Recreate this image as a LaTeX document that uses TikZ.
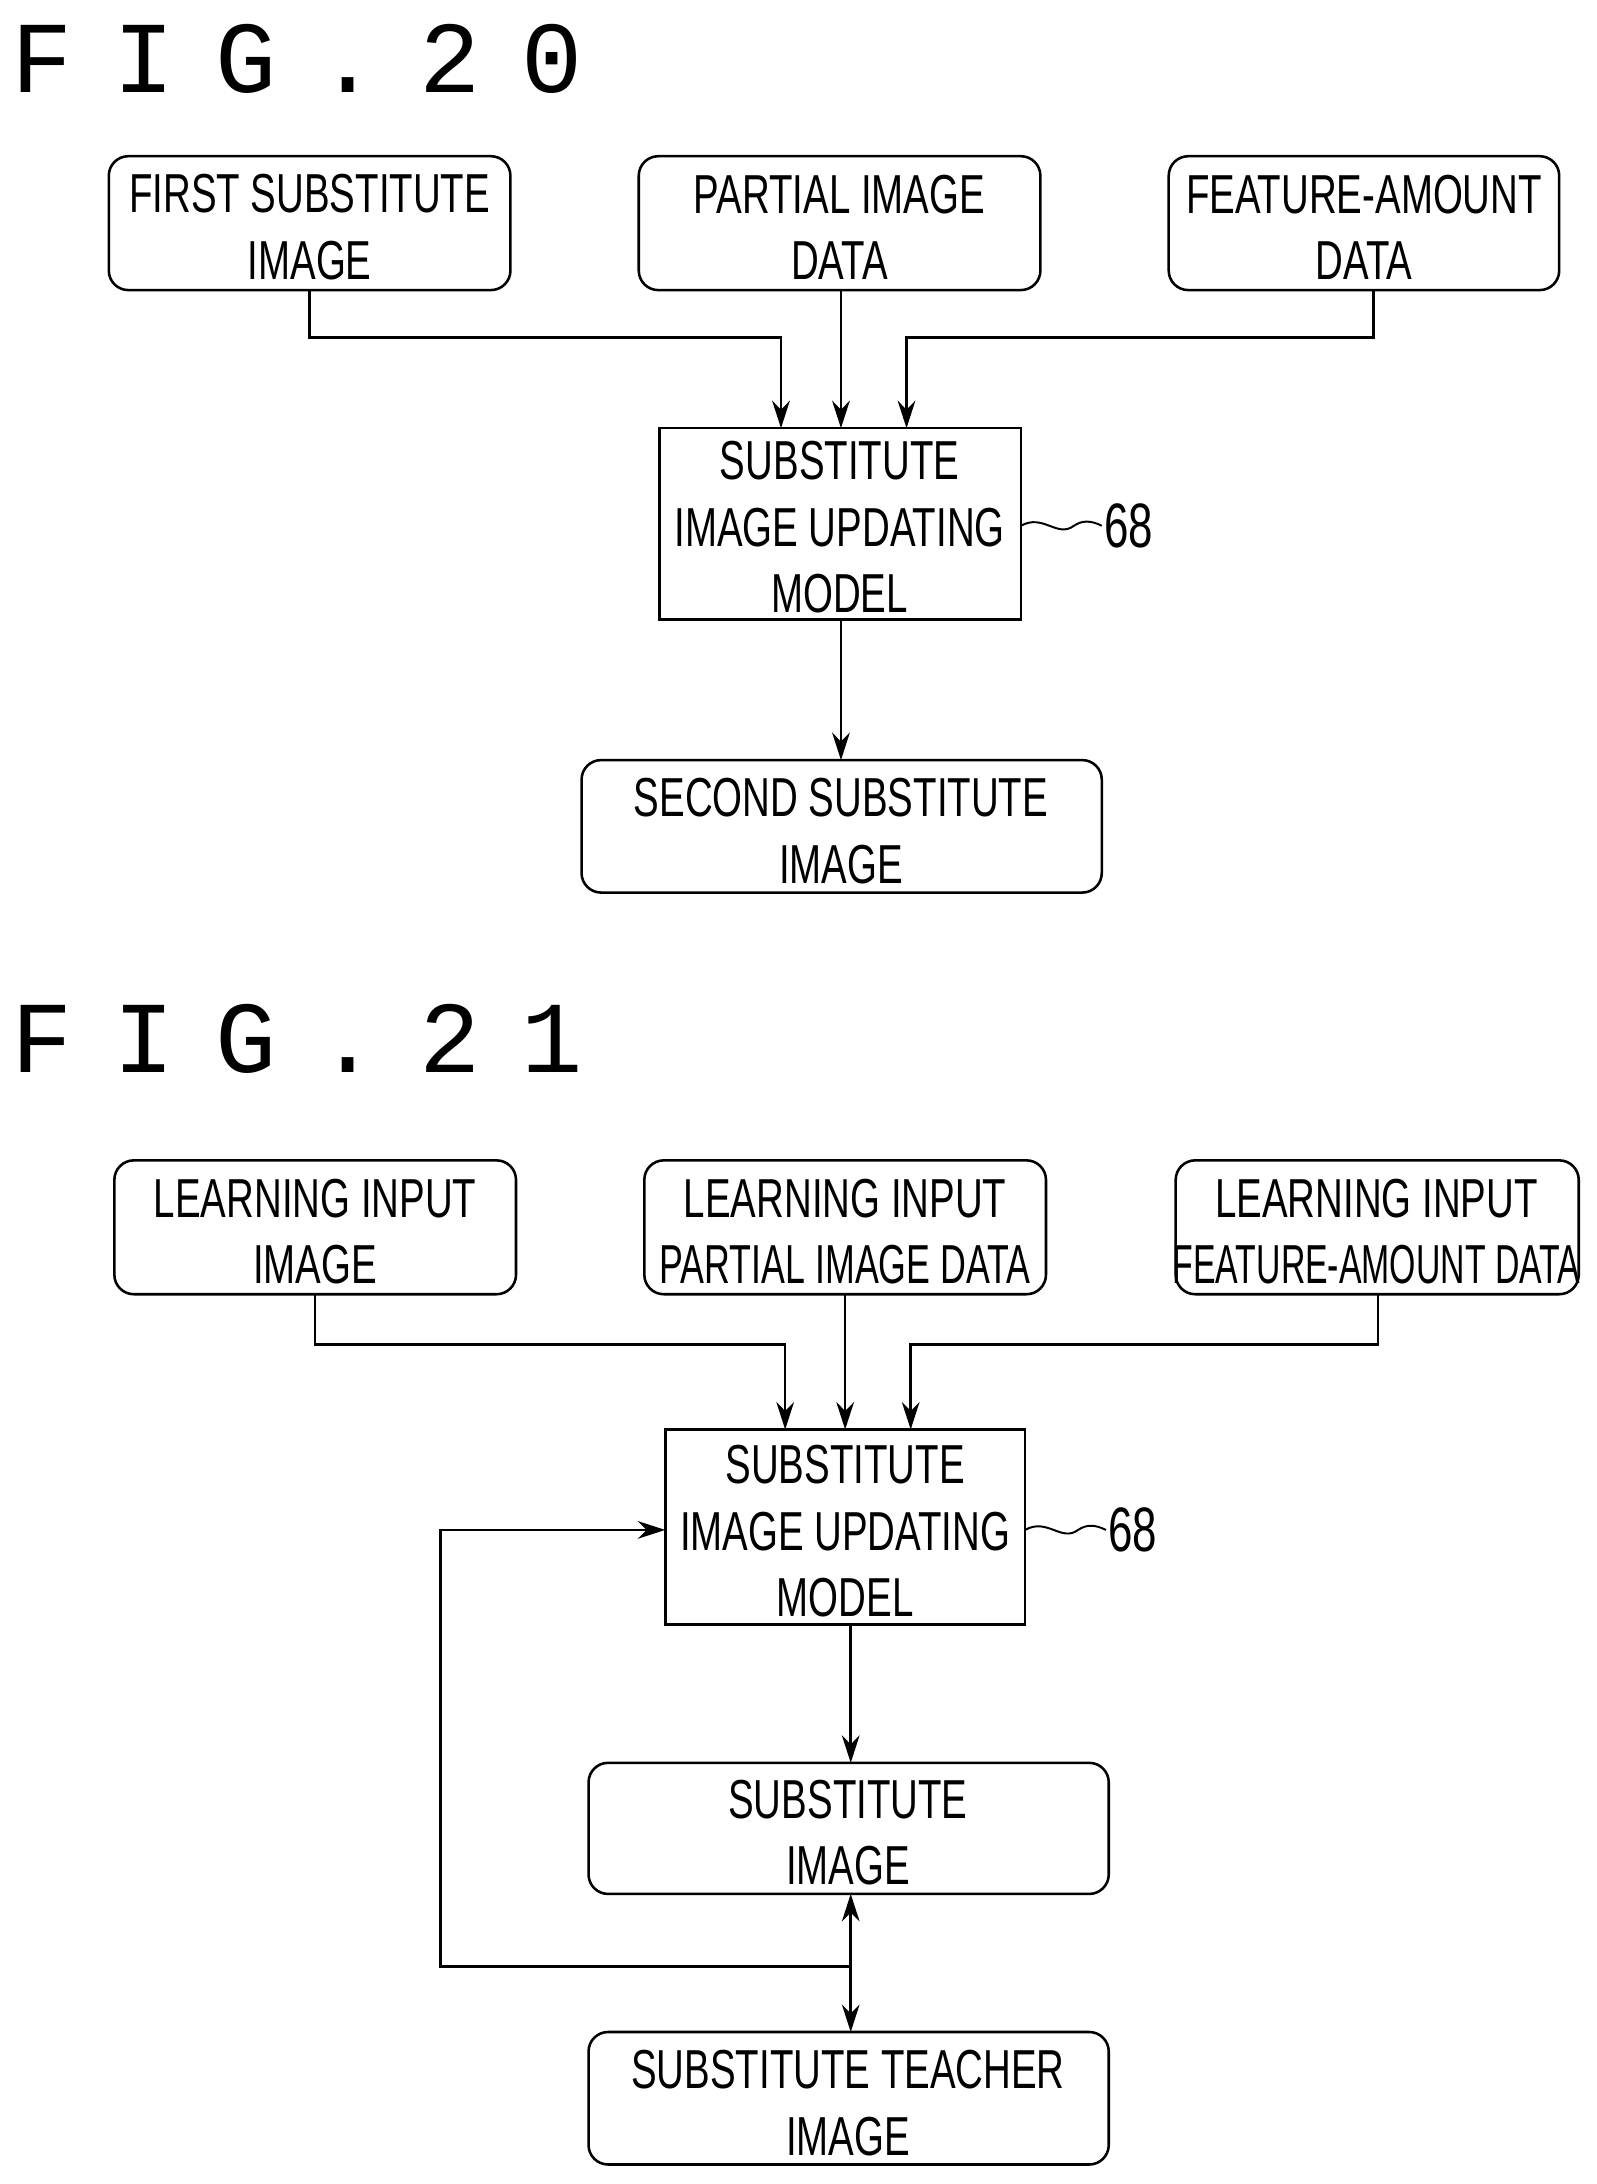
\documentclass[tikz,border=0pt]{standalone}
\usepackage{fontspec}
\usepackage{graphicx}
\setmainfont{Liberation Sans}[FakeStretch=0.7]
\newfontfamily\titlefont{Liberation Mono}[LetterSpace=40]
\usetikzlibrary{arrows.meta}
\begin{document}
\begin{tikzpicture}[x=0.025cm,y=-0.025cm,
  line width=1.3pt,
  txt/.style={font=\fontsize{28}{34}\selectfont, align=center},
  rbox/.style={draw, rounded corners=0.35cm},
  sbox/.style={draw},
  arr/.style={-{Stealth[length=14pt,width=9pt]}},
  lbl/.style={font=\fontsize{32}{36}\selectfont, anchor=west},
  ttl/.style={font=\titlefont\fontsize{52}{60}\selectfont, anchor=west}]
\useasboundingbox (0,0) rectangle (1145,1566);
% FIG 20
\node[ttl] (t20) at (3,42) {FIG.20};
\draw[rbox] (78,112) rectangle (366,208); \node[txt] (a) at (222,163) {FIRST SUBSTITUTE\\IMAGE};
\draw[rbox] (458,112) rectangle (746,208); \node[txt] (b) at (602,163) {PARTIAL IMAGE\\DATA};
\draw[rbox] (838,112) rectangle (1118,208); \node[txt] (c) at (978,163) {FEATURE-AMOUNT\\DATA};
\draw[sbox] (473,307) rectangle (732,444); \node[txt] (m) at (602,378) {SUBSTITUTE\\IMAGE UPDATING\\MODEL};
\draw[rbox] (417,545) rectangle (790,640); \node[txt] (o) at (603,596) {SECOND SUBSTITUTE\\IMAGE};
\node[lbl] (l68) at (786,377) {68};
\draw[line width=1pt] (732,377) .. controls (748,368) and (758,386) .. (770,377) .. controls (776,373) and (782,373) .. (790,377);
\draw[arr] (222,208) -- (222,242) -- (560,242) -- (560,307);
\draw[arr] (603,208) -- (603,307);
\draw[arr] (985,208) -- (985,242) -- (650,242) -- (650,307);
\draw[arr] (603,444) -- (603,545);
% FIG 21
\node[ttl] (t21) at (3,745) {FIG.21};
\draw[rbox] (82,832) rectangle (370,928); \node[txt] (d) at (226,883) {LEARNING INPUT\\IMAGE};
\draw[rbox] (462,832) rectangle (750,928); \node[txt] (e) at (606,883) {LEARNING INPUT\\\scalebox{0.93}[1]{PARTIAL IMAGE DATA}};
\draw[rbox] (843,832) rectangle (1132,928); \node[txt] (f) at (987,883) {LEARNING INPUT\\\scalebox{0.88}[1]{FEATURE-AMOUNT DATA}};
\draw[sbox] (477,1025) rectangle (735,1165); \node[txt] (m2) at (606,1098) {SUBSTITUTE\\IMAGE UPDATING\\MODEL};
\draw[rbox] (422,1264) rectangle (795,1358); \node[txt] (s) at (608,1314) {SUBSTITUTE\\IMAGE};
\draw[rbox] (422,1457) rectangle (795,1552); \node[txt] (tt) at (608,1508) {SUBSTITUTE TEACHER\\IMAGE};
\node[lbl] (m68) at (789,1097) {68};
\draw[line width=1pt] (735,1097) .. controls (751,1088) and (761,1106) .. (773,1097) .. controls (779,1093) and (785,1093) .. (793,1097);
\draw[arr] (226,928) -- (226,964) -- (563,964) -- (563,1025);
\draw[arr] (606,928) -- (606,1025);
\draw[arr] (988,928) -- (988,964) -- (653,964) -- (653,1025);
\draw[arr] (610,1165) -- (610,1264);
\coordinate (j) at (610,1410);
\draw[arr] (j) -- (610,1358);
\draw[arr] (j) -- (610,1457);
\draw[arr] (j) -- (316,1410) -- (316,1097) -- (477,1097);
\end{tikzpicture}
\end{document}
